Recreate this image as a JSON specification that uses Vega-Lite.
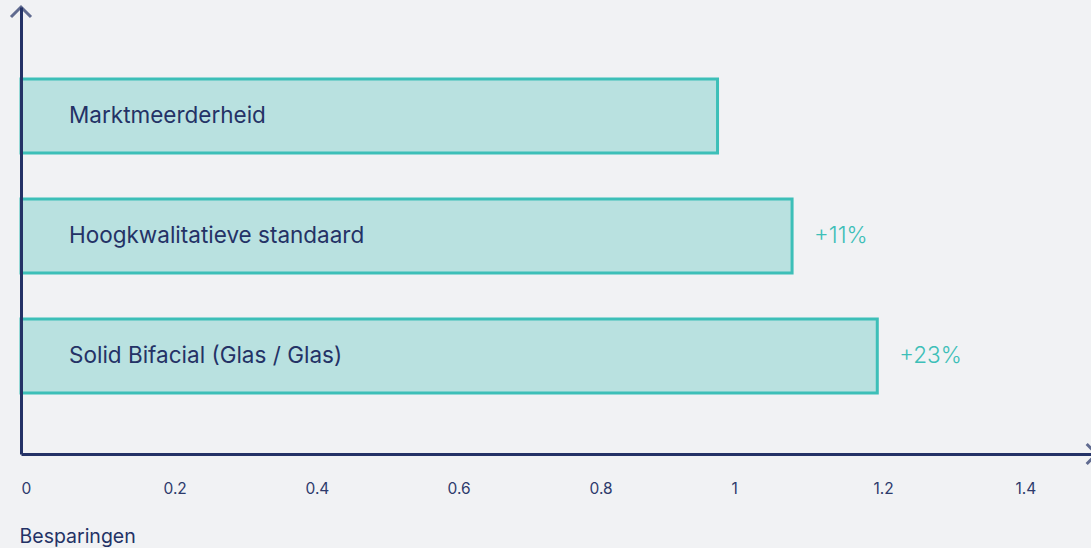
{
  "$schema": "https://vega.github.io/schema/vega-lite/v6.json",
  "width": 1070,
  "height": 447,
  "autosize": {"type": "none"},
  "padding": {"left": 21, "top": 7, "right": 0, "bottom": 94},
  "background": "#f1f2f4",
  "config": {
    "view": {"stroke": null},
    "font": "Inter"
  },
  "data": {
    "values": [
      {"category": "Marktmeerderheid", "value": 0.981, "change": ""},
      {"category": "Hoogkwalitatieve standaard", "value": 1.086, "change": "+11%"},
      {"category": "Solid Bifacial (Glas / Glas)", "value": 1.206, "change": "+23%"}
    ]
  },
  "encoding": {
    "y": {
      "field": "category",
      "type": "nominal",
      "sort": null,
      "scale": {"paddingInner": 0.3833, "paddingOuter": 0.554, "align": 0.541},
      "axis": {"labels": false, "ticks": false, "title": null, "domainColor": "#243266", "domainWidth": 3, "zindex": 1}
    }
  },
  "layer": [
    {
      "mark": {"type": "bar", "fill": "#b9e1e0", "stroke": "#3dbfb8", "strokeWidth": 3},
      "encoding": {
        "x": {
          "field": "value",
          "type": "quantitative",
          "scale": {"domain": [0, 1.507], "nice": false, "zero": true},
          "axis": {
            "values": [0, 0.2, 0.4, 0.6, 0.8, 1, 1.2, 1.4],
            "format": "~g",
            "grid": false,
            "ticks": false,
            "tickSize": 0,
            "labelAlign": "left",
            "labelBaseline": "middle",
            "labelPadding": 34,
            "labelColor": "#2d3a6c",
            "labelFontSize": 15.5,
            "labelFont": "Inter",
            "domainColor": "#243266",
            "domainWidth": 3,
            "zindex": 1,
            "title": "Besparingen",
            "titleFont": "Inter",
            "titleFontSize": 19.5,
            "titleFontWeight": "normal",
            "titleColor": "#243266",
            "titleAnchor": "start",
            "titleAlign": "left",
            "titleBaseline": "middle",
            "titleX": -2,
            "titleY": 82
          }
        }
      }
    },
    {
      "mark": {"type": "text", "align": "left", "baseline": "middle", "dx": 48, "fontSize": 22.5, "fontWeight": 400, "font": "Inter", "color": "#243266"},
      "encoding": {
        "x": {"datum": 0, "type": "quantitative"},
        "text": {"field": "category"}
      }
    },
    {
      "mark": {"type": "text", "align": "left", "baseline": "middle", "dx": 22, "fontSize": 22.5, "fontWeight": 300, "font": "Inter", "color": "#3dbfb8"},
      "encoding": {
        "x": {"field": "value", "type": "quantitative"},
        "text": {"field": "change"}
      }
    },
    {
      "data": {"values": [{"axis": "y"}]},
      "mark": {"type": "point", "shape": "M-1,1L0,0L1,1", "size": 400, "filled": false, "stroke": "#243266", "strokeWidth": 3},
      "encoding": {
        "x": {"datum": 0, "type": "quantitative"},
        "y": {"value": 0}
      }
    },
    {
      "data": {"values": [{"axis": "x"}]},
      "mark": {"type": "point", "shape": "M-1,-1L0,0L-1,1", "size": 400, "filled": false, "stroke": "#243266", "strokeWidth": 3},
      "encoding": {
        "x": {"datum": 1.515, "type": "quantitative"},
        "y": {"value": 447}
      }
    }
  ]
}
